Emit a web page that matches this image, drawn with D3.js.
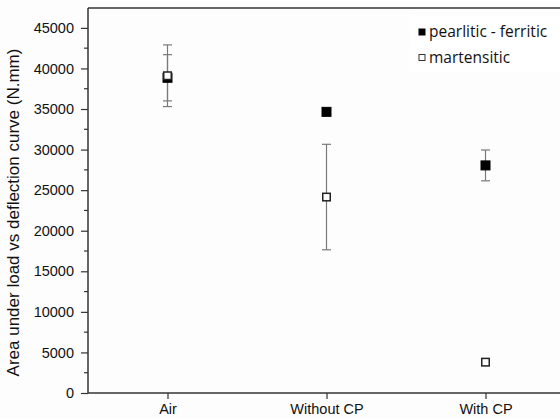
<!DOCTYPE html>
<html>
<head>
<meta charset="utf-8">
<script src="https://cdn.jsdelivr.net/npm/d3@7"></script>
<style>
  html, body { margin: 0; padding: 0; background: #fdfdfd; }
  svg { display: block; }
</style>
</head>
<body>
<svg id="chart" width="560" height="419"></svg>
<script>
// Environments tested
const categories = ["Air", "Without CP", "With CP"];

// Mean area under load-deflection curve (N.mm) and error half-widths
const pearliticMean = [38850, 34650, 28050];
const pearliticErr  = [2850, 0, 1900];
const martensiticMean = [39100, 24150, 3800];
const martensiticErr  = [3800, 6500, 0];

const yTicks = [0, 5000, 10000, 15000, 20000, 25000, 30000, 35000, 40000, 45000];
const seriesNames = ["pearlitic - ferritic", "martensitic"];

const W = 560, H = 419;
const margin = { left: 88, right: -5, top: 8, bottom: 26 };
const svg = d3.select("#chart");

const x = d3.scaleLinear().domain([0.5, 3.5]).range([margin.left, W - margin.right]);
const y = d3.scaleLinear().domain([0, 47450]).range([H - margin.bottom, margin.top]);

const axisColor = "#333";
const axisFont = "Liberation Sans, Arial, sans-serif";

// Top frame line
svg.append("line")
  .attr("x1", margin.left).attr("x2", W)
  .attr("y1", y(47450)).attr("y2", y(47450))
  .attr("stroke", axisColor).attr("stroke-width", 1.5);

// Y axis with minor ticks
const yAxis = d3.axisLeft(y).tickValues(yTicks).tickSize(7).tickPadding(7).tickFormat(d3.format("d"));
const gy = svg.append("g").attr("transform", `translate(${margin.left},0)`).call(yAxis);
gy.select(".domain").attr("stroke", axisColor).attr("stroke-width", 1.5)
  .attr("d", `M0,${y(0)}V${y(47450)}`);
gy.selectAll(".tick line").attr("stroke", axisColor).attr("stroke-width", 1.2);
gy.selectAll(".tick text")
  .attr("font-family", axisFont)
  .attr("font-size", 14.5).attr("fill", "#111");

const minor = d3.range(2500, 47500, 5000);
svg.append("g").selectAll("line").data(minor).join("line")
  .attr("x1", margin.left - 4).attr("x2", margin.left)
  .attr("y1", d => y(d)).attr("y2", d => y(d))
  .attr("stroke", axisColor).attr("stroke-width", 1.2);

// X axis
const xAxis = d3.axisBottom(x).tickValues([1, 2, 3]).tickSize(6).tickPadding(5)
  .tickFormat(d => categories[d - 1]);
const gx = svg.append("g").attr("transform", `translate(0,${y(0)})`).call(xAxis);
gx.select(".domain").attr("stroke", axisColor).attr("stroke-width", 1.5)
  .attr("d", `M${margin.left},0H${W}`);
gx.selectAll(".tick line").attr("stroke", axisColor).attr("stroke-width", 1.2);
gx.selectAll(".tick text")
  .attr("font-family", axisFont)
  .attr("font-size", 14.5).attr("fill", "#111");

// Y axis title
svg.append("text")
  .attr("transform", `translate(19,${(y(0) + y(47450)) / 2 + 12}) rotate(-90)`)
  .attr("text-anchor", "middle")
  .attr("font-family", axisFont)
  .attr("font-size", 17).attr("fill", "#111")
  .text("Area under load vs deflection curve (N.mm)");

// Error bars
function errorBars(means, errs) {
  const rows = means.map((m, i) => ({ i: i + 1, m, e: errs[i] })).filter(d => d.e > 0);
  const g = svg.append("g").attr("stroke", "#7a7a7a").attr("stroke-width", 1.2);
  g.selectAll(".v").data(rows).join("line")
    .attr("x1", d => x(d.i)).attr("x2", d => x(d.i))
    .attr("y1", d => y(d.m + d.e)).attr("y2", d => y(d.m - d.e));
  ["+", "-"].forEach(s => {
    g.selectAll(".cap" + (s === "+" ? "p" : "m")).data(rows).join("line")
      .attr("x1", d => x(d.i) - 4.5).attr("x2", d => x(d.i) + 4.5)
      .attr("y1", d => y(s === "+" ? d.m + d.e : d.m - d.e))
      .attr("y2", d => y(s === "+" ? d.m + d.e : d.m - d.e));
  });
}
errorBars(martensiticMean, martensiticErr);
errorBars(pearliticMean, pearliticErr);

// Markers
const sz = 9;
svg.append("g").selectAll("rect").data(pearliticMean).join("rect")
  .attr("x", (d, i) => x(i + 1) - sz / 2).attr("y", d => y(d) - sz / 2)
  .attr("width", sz).attr("height", sz)
  .attr("fill", "#000").attr("stroke", "#000").attr("stroke-width", 1);
svg.append("g").selectAll("rect").data(martensiticMean).join("rect")
  .attr("x", (d, i) => x(i + 1) - sz / 2 + 0.75).attr("y", d => y(d) - sz / 2 + 0.75)
  .attr("width", sz - 1.5).attr("height", sz - 1.5)
  .attr("fill", "#fff").attr("stroke", "#222").attr("stroke-width", 1.5);

// Legend
const lg = svg.append("g").attr("transform", "translate(410,15)");
lg.append("rect").attr("width", 150).attr("height", 57).attr("fill", "#fff");
const legendFont = "'Open Sans', sans-serif";
seriesNames.forEach((name, i) => {
  const cy = 17 + i * 25.5;
  lg.append("rect").attr("x", 9).attr("y", cy - 3).attr("width", 6).attr("height", 6)
    .attr("fill", i === 0 ? "#000" : "#fff")
    .attr("stroke", i === 0 ? "#000" : "#333").attr("stroke-width", 1);
  lg.append("text").attr("x", 19).attr("y", cy + 5)
    .attr("font-family", legendFont).attr("font-size", 15.5).attr("fill", "#111")
    .text(name);
});
</script>
</body>
</html>
